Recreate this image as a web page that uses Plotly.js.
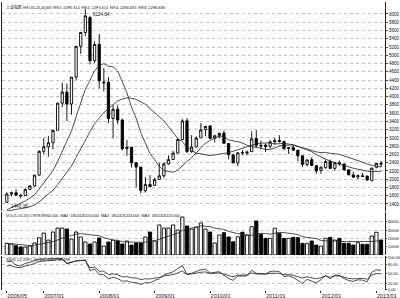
<!DOCTYPE html>
<html>
<head>
<meta charset="utf-8">
<script src="https://cdn.plot.ly/plotly-3.0.1.min.js"></script>
<style>html,body{margin:0;padding:0;background:#fff;}#chart{width:400px;height:298px;}</style>
</head>
<body>
<div id="chart"></div>
<script>
// ---- data (monthly, Shanghai Composite) ----
const months = ['2006/05','2006/06','2006/07','2006/08','2006/09','2006/10','2006/11','2006/12',
'2007/01','2007/02','2007/03','2007/04','2007/05','2007/06','2007/07','2007/08','2007/09','2007/10','2007/11','2007/12',
'2008/01','2008/02','2008/03','2008/04','2008/05','2008/06','2008/07','2008/08','2008/09','2008/10','2008/11','2008/12',
'2009/01','2009/02','2009/03','2009/04','2009/05','2009/06','2009/07','2009/08','2009/09','2009/10','2009/11','2009/12',
'2010/01','2010/02','2010/03','2010/04','2010/05','2010/06','2010/07','2010/08','2010/09','2010/10','2010/11','2010/12',
'2011/01','2011/02','2011/03','2011/04','2011/05','2011/06','2011/07','2011/08','2011/09','2011/10','2011/11','2011/12',
'2012/01','2012/02','2012/03','2012/04','2012/05','2012/06','2012/07','2012/08','2012/09','2012/10','2012/11','2012/12',
'2013/01','2013/02'];
const open = [1440,1641,1672,1612,1601,1752,1837,2099,
2675,2786,2881,3183,3841,4109,3820,4471,5218,5552,5914,4868,
5265,4330,4349,3472,3693,3433,2736,2775,2397,2293,1719,1873,
1849,1991,2082,2373,2477,2632,2959,3415,2667,2779,3000,3200,
3289,2991,3055,3116,2863,2587,2393,2640,2630,2668,2985,2822,
2825,2798,2906,2938,2911,2744,2765,2702,2567,2359,2473,2326,
2212,2278,2431,2262,2399,2369,2225,2104,2055,2081,2076,1970,
2289,2385];
const high = [1685,1700,1757,1643,1785,1856,2100,2698,
2995,3050,3197,3850,4335,4311,4473,5219,5560,6124,5955,5337,
5522,4695,4472,3786,3786,3468,2952,2784,2413,2294,2050,2100,
2039,2402,2403,2579,2688,2986,3454,3478,3068,3033,3361,3297,
3306,3077,3132,3181,2874,2615,2657,2707,2690,3159,3186,2940,
2861,2946,3000,3067,2931,2773,2827,2708,2572,2471,2536,2347,
2303,2478,2476,2412,2454,2370,2238,2180,2114,2146,2086,2276,
2394,2444];
const low = [1440,1580,1592,1541,1601,1738,1821,2084,
2604,2541,2723,3183,3739,3404,3563,4406,5032,5462,4778,4812,
4195,4123,3357,2990,3333,2693,2566,2284,1802,1664,1678,1814,
1844,1990,2037,2352,2468,2625,2946,2639,2640,2779,3000,3039,
2963,2890,2987,2861,2481,2382,2319,2580,2573,2668,2771,2721,
2661,2743,2835,2888,2703,2610,2686,2437,2298,2307,2319,2134,
2132,2256,2242,2210,2329,2210,2102,2047,1999,2067,1959,1949,
2264,2289];
const close = [1641,1672,1612,1601,1752,1837,2099,2675,
2786,2881,3183,3841,4109,3820,4471,5218,5552,5954,4871,5261,
4383,4348,3472,3693,3433,2736,2775,2397,2293,1728,1871,1820,
1990,2082,2373,2477,2632,2959,3412,2667,2779,2995,3195,3277,
2989,3051,3109,2870,2592,2398,2637,2638,2655,2978,2820,2808,
2790,2905,2928,2911,2743,2762,2701,2567,2359,2468,2333,2199,
2292,2428,2262,2396,2372,2225,2103,2047,2086,2069,1980,2269,
2385,2365];
// closes of the months before the window (2004/01 - 2006/04), used for MA / RSI warm-up
const priorClose = [1590.7,1675.1,1741.6,1595.6,1555.9,1399.2,1386.2,1342.1,1396.7,1320.5,1340.8,1266.5,
1191.8,1306.0,1181.2,1159.1,1060.7,1080.9,1083.0,1162.8,1155.6,1092.8,1099.3,1161.1,
1258.1,1299.0,1298.3,1440.2];
const volume = [14100,13250,11200,9600,9600,10800,14500,20800,26500,18000,
27700,32500,32500,31300,19300,27700,21700,15700,13300,15700,
20500,10800,15700,18000,16900,13300,16900,12000,14500,14500,
21700,27700,16900,36200,32500,32500,36200,30100,45800,35000,
31300,33700,38600,31300,27700,14500,24100,26900,21700,16000,
22000,27400,24100,34100,41000,25000,20100,20100,32200,26100,
20100,20100,21300,20900,14100,14100,16900,12000,10800,20100,
21300,18000,20100,14100,14100,12000,14800,12900,12900,22900,
27400,18000];
const tickMonths = ['2006/05','2007/01','2008/01','2009/01','2010/01','2011/01','2012/01','2013/01'];
const priceTicks = [1400,1600,1800,2000,2200,2400,2600,2800,3000,3200,3400,3600,3800,4000,4200,4400,4600,4800,5000,5200,5400,5600,5800,6000];
const volTicks = [10000,20000,30000,40000];
const volTickText = ['10000','20000','30000','40000'];
const rsiTicks = [0,20,50,80,100];
const rsiTickText = ['0.00','20.00','50.00','80.00','100.00'];

// ---- indicators ----
const allClose = priorClose.concat(close);
const off = priorClose.length;
function movAvg(n){
  return close.map((_,i)=>{let s=0;for(let k=0;k<n;k++)s+=allClose[off+i-k];return s/n;});
}
function volMA(n){
  return volume.map((_,i)=>{let s=0,c=0;for(let k=0;k<n&&i-k>=0;k++){s+=volume[i-k];c++;}return s/c;});
}
function rsi(n){
  let up=null,ab=null;const out=[];
  for(let t=1;t<allClose.length;t++){
    const d=allClose[t]-allClose[t-1];
    const u=Math.max(d,0),a=Math.abs(d);
    if(up===null){up=u;ab=a;}else{up=(u+(n-1)*up)/n;ab=(a+(n-1)*ab)/n;}
    if(t>=off) out.push(ab===0?50:up/ab*100);
  }
  return out;
}
const ma10=movAvg(10), ma20=movAvg(20);
const vma=volMA(10);
const rsi1=rsi(6), rsi2=rsi(12);
const volColor = close.map((c,i)=> c>=open[i] ? '#ffffff' : '#000000');

const lineStyle = {color:'#222', width:0.8};
const traces = [
  {type:'candlestick', x:months, open:open, high:high, low:low, close:close, xaxis:'x', yaxis:'y',
   increasing:{line:{color:'#000',width:0.9}, fillcolor:'#ffffff'},
   decreasing:{line:{color:'#000',width:0.9}, fillcolor:'#000000'},
   whiskerwidth:0, hoverinfo:'skip'},
  {type:'scatter', mode:'lines', x:months, y:ma10, line:lineStyle, xaxis:'x', yaxis:'y', hoverinfo:'skip'},
  {type:'scatter', mode:'lines', x:months, y:ma20, line:lineStyle, xaxis:'x', yaxis:'y', hoverinfo:'skip'},
  {type:'bar', x:months, y:volume, width:0.7, marker:{color:volColor, line:{color:'#000', width:0.9}}, xaxis:'x', yaxis:'y2', hoverinfo:'skip'},
  {type:'scatter', mode:'lines', x:months, y:vma, line:lineStyle, xaxis:'x', yaxis:'y2', hoverinfo:'skip'},
  {type:'scatter', mode:'lines', x:months, y:rsi1, line:lineStyle, xaxis:'x', yaxis:'y3', hoverinfo:'skip'},
  {type:'scatter', mode:'lines', x:months, y:rsi2, line:lineStyle, xaxis:'x', yaxis:'y3', hoverinfo:'skip'}
];

const pDom=[0.2743,1], vDom=[0.1215,0.2708], rDom=[0,0.118];
const axCommon = {side:'right', ticks:'outside', ticklen:2, tickwidth:0.8, tickcolor:'#222',
  showgrid:true, gridcolor:'#a8a8a8', griddash:'dot', gridwidth:0.7, zeroline:false,
  showline:true, mirror:true, linecolor:'#222', linewidth:1, tickfont:{size:4.6, color:'#111'}, fixedrange:true};
const layout = {
  width:400, height:298, margin:{l:2,r:15,t:2,b:8},
  paper_bgcolor:'#ffffff', plot_bgcolor:'#ffffff', showlegend:false,
  font:{family:'Liberation Sans Narrow, Liberation Sans, DejaVu Sans, sans-serif', size:5, color:'#111'},
  xaxis:{type:'category', anchor:'y3', range:[-1.04,81.86], rangeslider:{visible:false},
    tickmode:'array', tickvals:tickMonths, ticktext:tickMonths, ticklabelposition:'outside right',
    ticks:'outside', ticklen:2, tickcolor:'#222', showgrid:false, showline:false, zeroline:false,
    tickfont:{size:5.5, color:'#111'}, fixedrange:true},
  yaxis:Object.assign({}, axCommon, {domain:pDom, range:[1230,6290], tickmode:'array', tickvals:priceTicks}),
  yaxis2:Object.assign({}, axCommon, {domain:vDom, range:[0,51800], tickmode:'array', tickvals:volTicks, ticktext:volTickText, ticklen:1, tickfont:{size:4, color:'#111'}}),
  yaxis3:Object.assign({}, axCommon, {domain:rDom, range:[0,106], tickmode:'array', tickvals:rsiTicks, ticktext:rsiTickText, ticklen:1, tickfont:{size:4, color:'#111'}}),
  annotations:[
    {xref:'paper', yref:'paper', x:0.004, y:1, xanchor:'left', yanchor:'top', showarrow:false,
     text:'上证指数 MA(10,20,30,60) MA1: 2190.413  MA2: 2295.413  MA3: 2266.885  MA4: 2296.686',
     font:{family:'Noto Sans CJK SC', size:4, color:'#111'}},
    {xref:'paper', yref:'paper', x:0.004, y:vDom[1], xanchor:'left', yanchor:'top', showarrow:false,
     text:'VOL(5,10,20) 1787878944.000  MA1: 1802426224.000  MA2: 1802426224.000  MA3: 1802426224.000',
     font:{size:3.8, color:'#111'}},
    {xref:'paper', yref:'paper', x:0.004, y:rDom[1], xanchor:'left', yanchor:'top', showarrow:false,
     text:'RSI(6,12) RSI1: 60.164  RSI2: 45.698', font:{size:3.8, color:'#111'}},
    {xref:'x', yref:'y', x:'2007/11', y:6124.04, xanchor:'left', yanchor:'top', xshift:1, yshift:-1, showarrow:false,
     text:'6124.04', font:{size:4.6, color:'#111'}},
    {xref:'x', yref:'y', x:'2006/05', y:1440.38, xanchor:'left', yanchor:'top', xshift:2, showarrow:false,
     text:'1440.38', font:{size:4.6, color:'#111'}}
  ]
};
Plotly.newPlot('chart', traces, layout, {staticPlot:true, displayModeBar:false});
</script>
</body>
</html>
